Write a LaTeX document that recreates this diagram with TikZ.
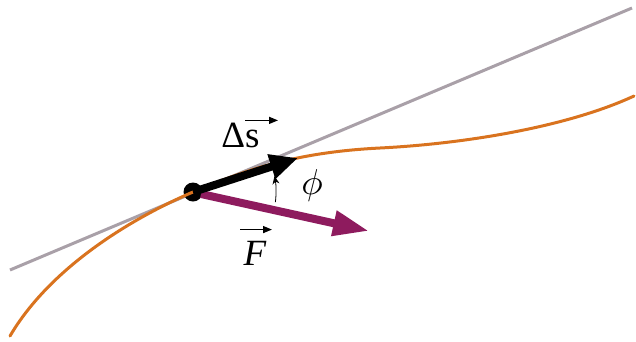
\documentclass[tikz,border=0pt]{standalone}
\usepackage{fontspec}
\usepackage{graphicx}
\setmainfont{Liberation Serif}
\usetikzlibrary{arrows.meta}
\definecolor{orng}{HTML}{D9731F}
\definecolor{tang}{HTML}{A9A0A8}
\definecolor{purp}{HTML}{8E1B5E}
\begin{document}
\begin{tikzpicture}[x=1pt,y=-1pt,
  lbl/.style={inner sep=0pt,font=\fontsize{37}{42}\selectfont},
  vecarrow/.style={line width=8pt},
  acc/.style={line width=1.4pt,-{Triangle[length=9pt,width=7pt]}},
]
\useasboundingbox (0,0) rectangle (636,341);
% tangent line
\coordinate (g1) at (10,270);
\coordinate (g2) at (632,8);
\draw[tang,line width=3pt] (g1) -- (g2);
% point
\node[circle,fill=black,minimum size=19pt,inner sep=0pt] (p) at (193,192) {};
% curve
\coordinate (c0) at (10,336);
\coordinate (c2) at (380,148);
\coordinate (c3) at (634,96);
\draw[orng,line width=3pt,line cap=round]
  (c0) .. controls (50,268) and (130,219) .. (p.center)
       .. controls (250,168) and (300,152) .. (c2)
       .. controls (460,144) and (565,128) .. (c3);
\coordinate (ds) at (298,158);
\coordinate (fe) at (369,231);
\draw[vecarrow,purp,-{Triangle[length=36pt,width=24pt]}] (p.center) ++(8,2) -- (fe);
\draw[vecarrow,black,-{Triangle[length=28pt,width=24pt]}] (p.center) -- (ds);
% angle
\draw[black,line width=0.8pt,-{Stealth[length=8pt,width=7pt]}] (p.center) ++(7:83) arc[start angle=7,end angle=-11,radius=83];
% labels
\node[lbl,anchor=base] (lds) at (240.5,147) {Δs};
\node[inner sep=0pt] (lphi) at (312,185) {\scalebox{3.6}{$\phi$}};
\node[lbl,anchor=base] (lf) at (255,265) {\textit{F}};
\draw[acc] ([shift={(4.5,-2)}]lds.north) -- ++(33,0);
\draw[acc] ([shift={(-15,-11)}]lf.north) -- ++(32,0);
\end{tikzpicture}
\end{document}
